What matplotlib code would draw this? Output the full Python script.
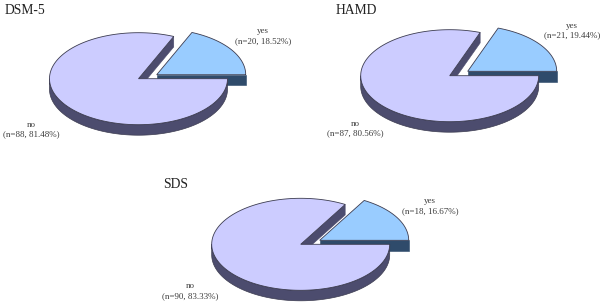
import numpy as np
import matplotlib
matplotlib.use("Agg")
import matplotlib.pyplot as plt

plt.rcParams['font.family'] = ['Liberation Serif', 'DejaVu Serif']

titulos = ["DSM-5", "HAMD", "SDS"]
n_yes = [20, 21, 18]
n_no = [88, 87, 90]
pct_yes = [18.52, 19.44, 16.67]
pct_no = [81.48, 80.56, 83.33]

# posicoes em pixels da imagem
centro_no = [(138.5, 78.7), (449.7, 75.7), (300.7, 244.3)]
centro_yes = [(156.7, 74.7), (467.7, 71.3), (319.7, 240.3)]
pos_titulo = [(25, 10.5), (356, 10.5), (176, 184.5)]
pos_label_yes = [(263, 36), (572, 30.5), (430, 206)]
pos_label_no = [(31, 129.5), (355, 128.5), (190, 291)]

RX, RY, PROF = 89, 46, 10.5
COR_YES, COR_YES_ESC = "#99ccff", "#2f4b6b"
COR_NO, COR_NO_ESC = "#ccccff", "#4c4c6e"
BORDA = "#3c3c50"


def arco(c, t0, t1):
    t = np.radians(np.linspace(t0, t1, 200))
    return c[0] + RX * np.cos(t), c[1] - RY * np.sin(t)


def fatia(ax, c, t0, t1, cor, cor_esc):
    # lado reto em t0 (visivel no yes) e em t1 (visivel no no)
    x, y = arco(c, t0, t1)
    if t0 == 0:
        ax.fill([c[0], x[0], x[0], c[0]], [c[1], c[1], c[1] + PROF, c[1] + PROF],
                color=cor_esc, lw=0.4, zorder=2)
    else:
        ax.fill([c[0], x[0], x[0], c[0]], [c[1], y[0], y[0] + PROF, c[1] + PROF],
                color=cor_esc, lw=0.4, zorder=2)
        # parede externa da frente
        xf, yf = arco(c, 180, 360)
        ax.fill(np.r_[xf, xf[::-1]], np.r_[yf, yf[::-1] + PROF],
                facecolor=cor_esc, edgecolor=BORDA, lw=0.5, zorder=2)
    ax.fill(np.r_[c[0], x], np.r_[c[1], y], facecolor=cor, edgecolor=BORDA, lw=0.6, zorder=3)


fig = plt.figure(figsize=(6.06, 3.06), dpi=100)
ax = fig.add_axes([0, 0, 1, 1])
ax.set_xlim(0, 606)
ax.set_ylim(306, 0)
ax.axis("off")

for i in range(3):
    ang = pct_yes[i] / 100 * 360
    fatia(ax, centro_yes[i], 0, ang, COR_YES, COR_YES_ESC)
    fatia(ax, centro_no[i], ang, 360, COR_NO, COR_NO_ESC)

    ax.text(*pos_titulo[i], titulos[i], fontsize=9.8, color="#222222", ha="center", va="center")
    ax.text(*pos_label_yes[i], f"yes\n(n={n_yes[i]}, {pct_yes[i]:.2f}%)", fontsize=6.5,
            color="#3c3c3c", ha="center", va="center", linespacing=1.3, zorder=5)
    ax.text(*pos_label_no[i], f"no\n(n={n_no[i]}, {pct_no[i]:.2f}%)", fontsize=6.5,
            color="#3c3c3c", ha="center", va="center", linespacing=1.3, zorder=5)

fig.savefig("out.png", dpi=100)
